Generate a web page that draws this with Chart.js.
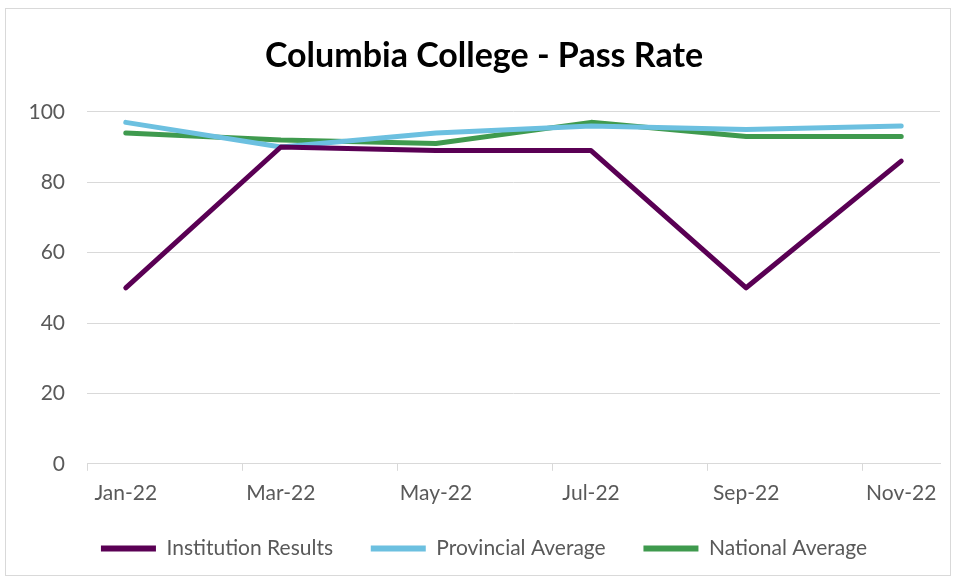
<!DOCTYPE html>
<html>
<head>
<meta charset="utf-8">
<script src="https://cdn.jsdelivr.net/npm/chart.js@4.4.1/dist/chart.umd.min.js"></script>
<style>
  html, body { margin: 0; padding: 0; background: #ffffff; }
  #wrap { position: relative; width: 956px; height: 577px; }
  #frame { position: absolute; left: 5px; top: 8px; width: 944px; height: 566px; border: 1px solid #d9d9d9; pointer-events: none; }
</style>
</head>
<body>
<div id="wrap">
  <canvas id="passChart" width="956" height="577"></canvas>
  <div id="frame"></div>
</div>
<script>
// Monthly slots on the x axis (only every other month has a result)
const months = ["Jan-22", "Feb-22", "Mar-22", "Apr-22", "May-22", "Jun-22",
                "Jul-22", "Aug-22", "Sep-22", "Oct-22", "Nov-22"];
const reportMonths = ["Jan-22", "Mar-22", "May-22", "Jul-22", "Sep-22", "Nov-22"];

// Pass rates (%)
const institutionResults = [50, 90, 89, 89, 50, 86];
const provincialAverage = [97, 90, 94, 96, 95, 96];
const nationalAverage = [94, 92, 91, 97, 93, 93];

const yTicks = [0, 20, 40, 60, 80, 100];

const fontFamily = "Lato, 'Open Sans', sans-serif";
const gridGray = "#d9d9d9";
const textGray = "#595959";

function toPoints(values) {
    return values.map((v, i) => ({ x: reportMonths[i], y: v }));
}

function lineSet(label, values, color) {
    return {
        label: label,
        data: toPoints(values),
        borderColor: color,
        backgroundColor: color,
        borderWidth: 5,
        borderCapStyle: "round",
        borderJoinStyle: "round",
        pointRadius: 0,
        pointHoverRadius: 0,
        tension: 0,
        fill: false,
    };
}

const ctx = document.getElementById("passChart").getContext("2d");
new Chart(ctx, {
    type: "line",
    data: {
        labels: months,
        datasets: [
            lineSet("Institution Results", institutionResults, "#5a0054"),
            lineSet("Provincial Average", provincialAverage, "#6cc0e0"),
            lineSet("National Average", nationalAverage, "#3f9a4e"),
        ],
    },
    options: {
        responsive: false,
        animation: false,
        layout: {
            padding: { left: 28, right: 16, top: 0, bottom: 8 },
        },
        plugins: {
            title: {
                display: true,
                text: "Columbia College - Pass Rate",
                color: "#000000",
                font: { family: fontFamily, size: 34, weight: "bold" },
                padding: { top: 36, bottom: 35 },
            },
            legend: {
                position: "bottom",
                labels: {
                    color: textGray,
                    font: { family: fontFamily, size: 21 },
                    boxWidth: 55,
                    boxHeight: 6,
                    padding: 22,
                    useBorderRadius: true,
                    borderRadius: 3,
                    // extra em space after the first two entries widens the gaps like the original
                    generateLabels: (chart) =>
                        chart.data.datasets.map((ds, i, all) => ({
                            text: i < all.length - 1 ? ds.label + "\u2003" : ds.label,
                            fillStyle: ds.borderColor,
                            strokeStyle: ds.borderColor,
                            lineWidth: 0,
                            fontColor: textGray,
                            datasetIndex: i,
                            hidden: false,
                        })),
                },
            },
            tooltip: { enabled: false },
        },
        scales: {
            x: {
                offset: true,
                grid: {
                    offset: true,
                    drawOnChartArea: false,
                    tickLength: 7,
                    color: (c) => (c.index % 2 === 0 ? gridGray : "rgba(0,0,0,0)"),
                },
                border: { display: true, color: gridGray, width: 1 },
                ticks: {
                    autoSkip: false,
                    maxRotation: 0,
                    color: textGray,
                    padding: 10,
                    font: { family: fontFamily, size: 21 },
                    callback: function (value, index) {
                        return index % 2 === 0 ? months[index] : "";
                    },
                },
            },
            y: {
                min: yTicks[0],
                max: yTicks[yTicks.length - 1],
                afterBuildTicks: (scale) => {
                    scale.ticks = yTicks.map((v) => ({ value: v }));
                },
                afterFit: (scale) => {
                    scale.width = 59;
                },
                grid: { color: gridGray, drawTicks: false },
                border: { display: false },
                ticks: {
                    color: textGray,
                    padding: 22,
                    font: { family: fontFamily, size: 21 },
                },
            },
        },
    },
});
</script>
</body>
</html>
